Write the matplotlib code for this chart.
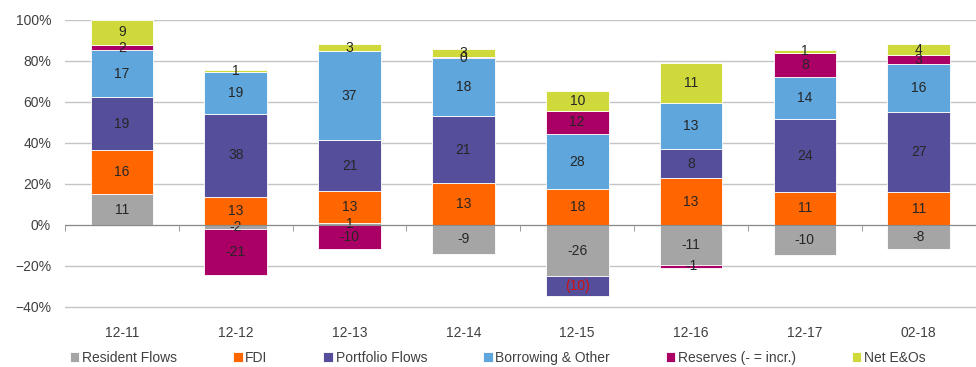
import numpy as np
import matplotlib.pyplot as plt
from matplotlib.ticker import PercentFormatter

plt.rcParams['font.family'] = ['Liberation Sans', 'DejaVu Sans']

# Financial account components by period (label values)
periods = ['12-11', '12-12', '12-13', '12-14', '12-15', '12-16', '12-17', '02-18']
resident = [11, -2, 1, -9, -26, -11, -10, -8]
fdi = [16, 13, 13, 13, 18, 13, 11, 11]
portfolio = [19, 38, 21, 21, -10, 8, 24, 27]
borrowing = [17, 19, 37, 18, 28, 13, 14, 16]
reserves = [2, -21, -10, 0.4, 12, -1, 8, 3]
net_eo = [9, 1, 3, 2.6, 10, 11, 1, 4]

names = ['Resident Flows', 'FDI', 'Portfolio Flows', 'Borrowing & Other',
         'Reserves (- = incr.)', 'Net E&Os']
colors = ['#a5a5a5', '#ff6600', '#554f9b', '#5ea6db', '#aa0066', '#d0d93b']

values = np.array([resident, fdi, portfolio, borrowing, reserves, net_eo], dtype=float)
# each component as a share of the gross (absolute) flows in the period
shares = values / np.abs(values).sum(axis=0) * 100

fig = plt.figure(figsize=(9.76, 3.67), dpi=100)
ax = fig.add_axes([0.0666, 0.158, 0.933, 0.788])

x = np.arange(len(periods))
pos = np.zeros(len(x))
neg = np.zeros(len(x))
for vals, sh, name, col in zip(values, shares, names, colors):
    bottom = np.where(sh >= 0, pos, neg)
    bars = ax.bar(x, sh, 0.55, bottom=bottom, color=col, edgecolor='white',
                  linewidth=0.6, label=name, zorder=2)
    pos += np.where(sh >= 0, sh, 0)
    neg += np.where(sh < 0, sh, 0)

    labels = []
    for v in vals:
        if name == 'Portfolio Flows' and v < 0:
            labels.append('(%.0f)' % -v)
        else:
            labels.append('%.0f' % v)
    texts = ax.bar_label(bars, labels=labels, label_type='center',
                         fontsize=10, color='#262626')
    for t, lab in zip(texts, labels):
        if lab.startswith('('):
            t.set_color('#d01010')

ax.set_xlim(-0.5, len(periods) - 0.5)
ax.set_ylim(-41, 100)
ax.set_yticks(np.arange(-40, 101, 20))
ax.yaxis.set_major_formatter(PercentFormatter(decimals=0))
ax.grid(axis='y', color='#c4c4c4', linewidth=1, zorder=0)
ax.set_axisbelow(True)
ax.tick_params(axis='y', length=0, pad=10, labelsize=10, labelcolor='#404040')

for s in ['left', 'right', 'top']:
    ax.spines[s].set_visible(False)
ax.spines['bottom'].set_position(('data', 0))
ax.spines['bottom'].set_color('#8a8a8a')
ax.spines['bottom'].set_zorder(3)
ax.set_xticks([])
ax.set_xticks(np.arange(len(periods) + 1) - 0.5, minor=True)
ax.tick_params(axis='x', which='minor', length=4, direction='out', color='#8a8a8a')

# category labels below the plot area
sec = ax.secondary_xaxis('bottom')
sec.set_xticks(x, periods)
sec.tick_params(length=0, pad=12, labelsize=10, labelcolor='#404040')
sec.spines['bottom'].set_visible(False)

handles, labs = ax.get_legend_handles_labels()
fig.legend(handles, labs, loc='center', bbox_to_anchor=(0.51, 0.025), ncol=6,
           frameon=False, fontsize=10, handlelength=0.7, handleheight=0.7,
           handletextpad=0.2, columnspacing=4.0, labelcolor='#404040')

fig.savefig('out.png', dpi=100)
